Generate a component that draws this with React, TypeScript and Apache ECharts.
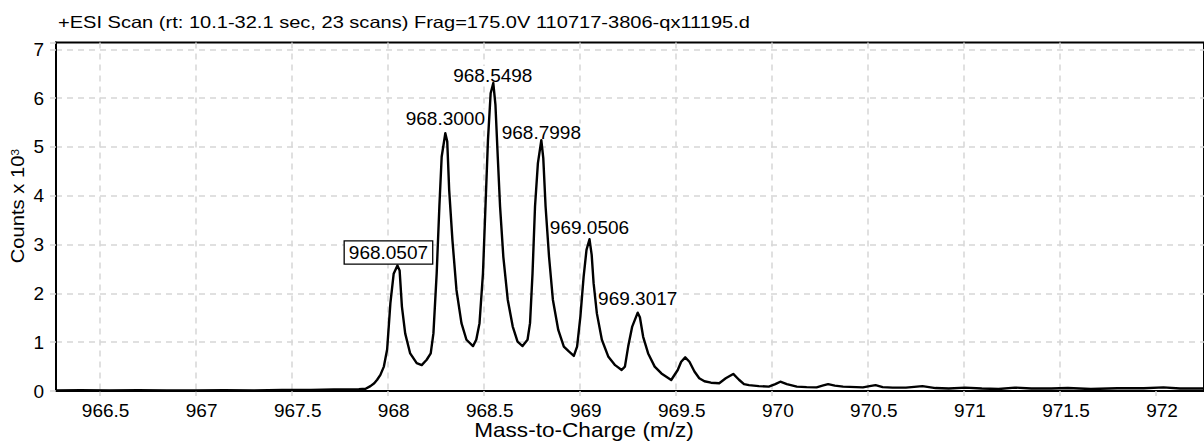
import { useEffect, useRef } from "react";
import * as echarts from "echarts";

// Header and axis titles
const titleText =
  "+ESI Scan (rt: 10.1-32.1 sec, 23 scans) Frag=175.0V 110717-3806-qx11195.d";
const xAxisTitle = "Mass-to-Charge (m/z)";
const yAxisTitle = "Counts x 10";
const yAxisExponent = "3";

// Tick values
const xTickValues = [966.5, 967, 967.5, 968, 968.5, 969, 969.5, 970, 970.5, 971, 971.5, 972];

// Profile spectrum: m/z and intensity (counts x 10^3)
const mzValues = [
  966.273, 966.4, 966.55, 966.7, 966.85, 967.0, 967.15, 967.3, 967.45, 967.6,
  967.72, 967.85, 967.885, 967.91, 967.93, 967.945, 967.962, 967.98, 967.997, 968.014,
  968.031, 968.0507, 968.062, 968.074, 968.091, 968.117, 968.151, 968.177, 968.203, 968.224,
  968.238, 968.255, 968.269, 968.281, 968.3, 968.31, 968.32, 968.337, 968.358, 968.384,
  968.41, 968.444, 968.461, 968.478, 968.496, 968.509, 968.522, 968.536, 968.5498, 968.561,
  968.573, 968.585, 968.602, 968.625, 968.651, 968.676, 968.702, 968.728, 968.741, 968.754,
  968.767, 968.782, 968.7998, 968.81, 968.822, 968.84, 968.86, 968.888, 968.917, 968.943,
  968.969, 968.986, 969.003, 969.02, 969.035, 969.0506, 969.062, 969.072, 969.089, 969.115,
  969.149, 969.184, 969.218, 969.235, 969.252, 969.273, 969.3017, 969.313, 969.33, 969.356,
  969.39, 969.425, 969.476, 969.51, 969.528, 969.549, 969.571, 969.597, 969.622, 969.649,
  969.683, 969.726, 969.76, 969.799, 969.829, 969.855, 969.881, 969.932, 969.984, 970.018,
  970.044, 970.078, 970.13, 970.181, 970.233, 970.268, 970.293, 970.328, 970.371, 970.474,
  970.509, 970.54, 970.577, 970.629, 970.698, 970.784, 970.852, 970.921, 971.007, 971.093,
  971.18, 971.265, 971.351, 971.455, 971.541, 971.661, 971.799, 971.936, 972.039, 972.125,
  972.25,
];
const counts = [
  0.012, 0.015, 0.01, 0.018, 0.012, 0.01, 0.016, 0.012, 0.02, 0.022,
  0.03, 0.035, 0.045, 0.1, 0.16, 0.23, 0.33, 0.5, 0.85, 1.8,
  2.4, 2.57, 2.47, 1.73, 1.18, 0.77, 0.57, 0.53, 0.64, 0.77,
  1.18, 2.41, 3.78, 4.8, 5.28, 5.11, 4.12, 3.09, 2.07, 1.39,
  1.05, 0.92, 1.05, 1.39, 2.41, 3.78, 5.14, 6.1, 6.31, 5.86,
  4.8, 3.78, 2.75, 1.87, 1.32, 1.01, 0.92, 1.05, 1.39, 2.41,
  3.78, 4.67, 5.14, 4.77, 3.78, 2.75, 1.87, 1.25, 0.91, 0.81,
  0.72, 0.91, 1.52, 2.34, 2.89, 3.11, 2.79, 2.21, 1.59, 1.05,
  0.7, 0.53, 0.43, 0.5, 0.91, 1.32, 1.605, 1.51, 1.11, 0.77,
  0.5, 0.36, 0.225, 0.43, 0.6, 0.69, 0.6, 0.4, 0.26, 0.2,
  0.17, 0.16, 0.26, 0.35, 0.23, 0.14, 0.12, 0.1, 0.09, 0.14,
  0.19, 0.14, 0.09, 0.08, 0.075, 0.115, 0.14, 0.11, 0.09, 0.075,
  0.1, 0.12, 0.08, 0.07, 0.07, 0.1, 0.06, 0.05, 0.07, 0.05,
  0.04, 0.07, 0.05, 0.05, 0.06, 0.04, 0.055, 0.055, 0.075, 0.05,
  0.05,
];

// Labelled centroid peaks; the first one is the selected (boxed) peak
const peakMz = [968.0507, 968.3, 968.5498, 968.7998, 969.0506, 969.3017];
const selectedPeak = 968.0507;

// Label placement relative to each peak apex, in pixels
const peakLabelOffsets: [number, number][] = [
  [-9, -13],
  [0, -14.5],
  [-0.5, -7.6],
  [0, -7.2],
  [0, -12],
  [0, -14],
];

const FONT = "'Liberation Sans', Arial, Helvetica, sans-serif";

export default function App() {
  const ref = useRef<HTMLDivElement>(null);

  useEffect(() => {
    const chart = echarts.init(ref.current!, null, { renderer: "svg" });

    const spectrum = mzValues.map((m, i) => [m, counts[i]]);
    const peaks = peakMz.map((m, i) => {
      const isSelected = m === selectedPeak;
      return {
        value: [m, counts[mzValues.indexOf(m)]],
        label: {
          offset: peakLabelOffsets[i],
          borderColor: isSelected ? "#000" : "transparent",
          borderWidth: isSelected ? 1.3 : 0,
          padding: isSelected ? [2, 4, 1, 4] : [0, 1, 0, 1],
        },
      };
    });

    const gridColor = "#d6d6d6";

    chart.setOption({
      animation: false,
      backgroundColor: "#fff",
      grid: {
        left: 56,
        top: 42.5,
        right: -10,
        bottom: 52,
        show: true,
        borderColor: "#000",
        borderWidth: 2,
        backgroundColor: "transparent",
      },
      xAxis: {
        type: "value",
        min: 966.273,
        max: 972.25,
        axisLine: { show: true, onZero: false, lineStyle: { color: "#000", width: 2 } },
        axisTick: {
          show: true,
          customValues: xTickValues,
          length: 5,
          lineStyle: { color: gridColor, width: 1.5 },
        },
        axisLabel: {
          customValues: xTickValues,
          color: "#000",
          fontFamily: FONT,
          fontSize: 19,
          margin: 10,
          padding: [0, 0, 0, 12],
        },
        splitLine: {
          show: true,
          showMaxLine: false,
          lineStyle: { color: gridColor, width: 1.5, type: [6, 5] },
        },
      },
      yAxis: {
        type: "value",
        min: 0,
        max: 7.14,
        interval: 1,
        axisLine: { show: true, lineStyle: { color: "#000", width: 2 } },
        axisTick: { show: true, length: 6, lineStyle: { color: gridColor, width: 1.5 } },
        axisLabel: {
          color: "#000",
          fontFamily: FONT,
          fontSize: 19,
          margin: 12,
          formatter: (v: number) =>
            Math.abs(v - Math.round(v)) < 1e-6 ? String(Math.round(v)) : "",
        },
        splitLine: {
          show: true,
          showMaxLine: false,
          lineStyle: { color: gridColor, width: 1.5, type: [6, 5] },
        },
      },
      series: [
        {
          type: "scatter",
          z: 1,
          data: peaks,
          symbolSize: 1,
          itemStyle: { color: "transparent", opacity: 1 },
          silent: true,
          label: {
            show: true,
            position: "inside",
            color: "#000",
            opacity: 1,
            textBorderWidth: 0,
            fontFamily: FONT,
            fontSize: 19,
            backgroundColor: "#fff",
            formatter: (p: any) => Number(p.value[0]).toFixed(4),
          },
        },
        {
          type: "line",
          z: 2,
          data: spectrum,
          showSymbol: false,
          symbol: "none",
          smooth: false,
          lineStyle: { color: "#000", width: 2.4, join: "round" },
        },
      ],
      graphic: [
        {
          type: "text",
          x: 58,
          y: 22.5,
          scaleX: 1.23,
          style: {
            text: titleText,
            fill: "#000",
            font: `16.3px ${FONT}`,
            textAlign: "left",
            textVerticalAlign: "middle",
          },
        },
        {
          type: "text",
          x: 584,
          y: 430,
          scaleX: 1.13,
          style: {
            text: xAxisTitle,
            fill: "#000",
            font: `20px ${FONT}`,
            textAlign: "center",
            textVerticalAlign: "middle",
          },
        },
        {
          type: "text",
          x: 18,
          y: 206,
          rotation: Math.PI / 2,
          scaleX: 1.12,
          style: {
            text: `${yAxisTitle}{sup|${yAxisExponent}}`,
            fill: "#000",
            font: `18px ${FONT}`,
            textAlign: "center",
            textVerticalAlign: "middle",
            rich: {
              sup: {
                fontSize: 11,
                fontFamily: FONT,
                fill: "#000",
                verticalAlign: "top",
              },
            },
          },
        },
      ],
    });

    return () => chart.dispose();
  }, []);

  return (
    <div
      ref={ref}
      style={{
        position: "absolute",
        left: 0,
        top: 0,
        width: 1204,
        height: 443,
        background: "#fff",
      }}
    />
  );
}
